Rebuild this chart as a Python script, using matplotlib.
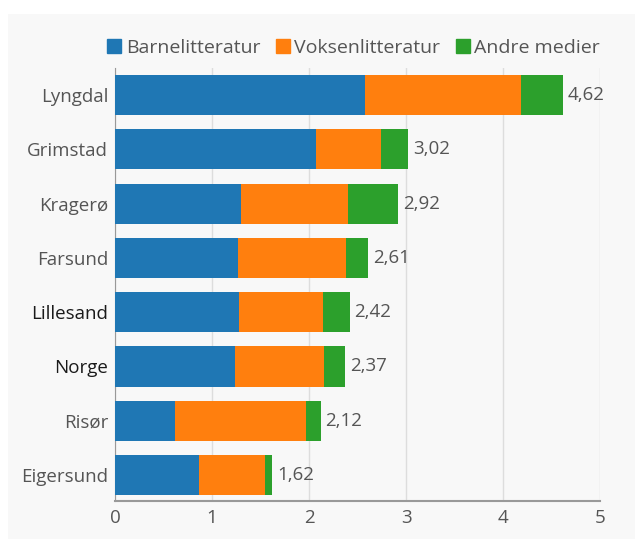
import matplotlib.pyplot as plt
import numpy as np
from matplotlib.patches import Rectangle

plt.rcParams['font.family'] = ['Open Sans', 'DejaVu Sans']

steder = ['Lyngdal', 'Grimstad', 'Kragerø', 'Farsund', 'Lillesand', 'Norge', 'Risør', 'Eigersund']
barn = [2.58, 2.07, 1.30, 1.27, 1.28, 1.24, 0.62, 0.87]
voksen = [1.61, 0.67, 1.10, 1.11, 0.86, 0.91, 1.35, 0.68]
totalt = [4.62, 3.02, 2.92, 2.61, 2.42, 2.37, 2.12, 1.62]
andre = [round(t - b - v, 2) for t, b, v in zip(totalt, barn, voksen)]

farger = ['#1f77b4', '#ff7f0e', '#2ca02c']
navn = ['Barnelitteratur', 'Voksenlitteratur', 'Andre medier']

fs = 13.5

fig = plt.figure(figsize=(6.35, 5.39), dpi=100)
fig.patch.set_facecolor('white')
fig.patches.append(Rectangle((8 / 635, 0), 1, 1 - 14 / 539, transform=fig.transFigure,
                             facecolor='#f8f8f8', edgecolor='none', zorder=-1))

ax = fig.add_axes([115 / 635, 38 / 539, 485 / 635, 433 / 539])
ax.set_facecolor('#f8f8f8')

y = np.arange(len(steder))
h = 0.74
ax.barh(y, barn, height=h, color=farger[0], label=navn[0], zorder=3)
ax.barh(y, voksen, left=barn, height=h, color=farger[1], label=navn[1], zorder=3)
left2 = np.array(barn) + np.array(voksen)
ax.barh(y, andre, left=left2, height=h, color=farger[2], label=navn[2], zorder=3)

for yi, t in zip(y, totalt):
    ax.text(t + 0.05, yi, f'{t:.2f}'.replace('.', ','), va='center', ha='left',
            fontsize=fs, color='#555555')

ax.set_xlim(0, 5)
ax.set_ylim(len(steder) - 0.52, -0.5)
ax.set_xticks([0, 1, 2, 3, 4, 5])
ax.set_yticks(y)
ax.set_yticklabels(steder)
for lbl in ax.get_yticklabels():
    if lbl.get_text() in ('Lillesand', 'Norge'):
        lbl.set_color('#1a1a1a')
        lbl.set_fontweight('medium')
    else:
        lbl.set_color('#555555')
ax.tick_params(axis='y', length=0, pad=5, labelsize=fs)
ax.tick_params(axis='x', length=0, pad=6, labelsize=fs, labelcolor='#555555')

ax.grid(axis='x', color='#dddddd', linewidth=1, zorder=0)
for s in ['top', 'right']:
    ax.spines[s].set_visible(False)
ax.spines['left'].set_color('#999999')
ax.spines['bottom'].set_color('#999999')
ax.spines['bottom'].set_linewidth(1.5)

handles = [plt.Line2D([], [], marker='s', linestyle='', markersize=10, color=c) for c in farger]
fig.legend(handles, navn, loc='center right', bbox_to_anchor=(600 / 635, 1 - 48 / 539),
           ncol=3, frameon=False, fontsize=14, handletextpad=0.15, columnspacing=0.7,
           handlelength=0.9, labelcolor='#555555', borderpad=0, borderaxespad=0)

fig.savefig('out.png', dpi=100, facecolor=fig.get_facecolor())
